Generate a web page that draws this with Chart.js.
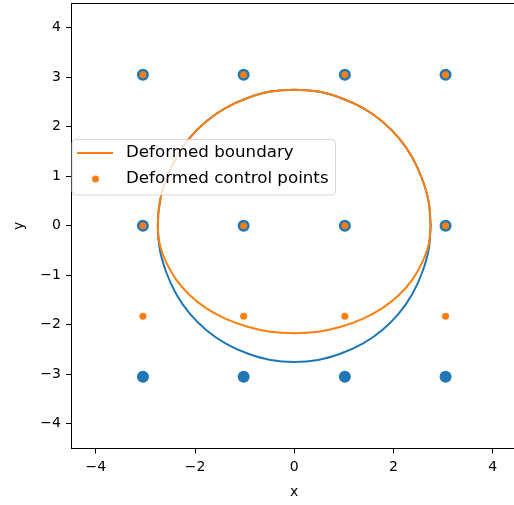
<!DOCTYPE html>
<html>
<head>
<meta charset="utf-8">
<script src="https://cdn.jsdelivr.net/npm/chart.js@4.4.1/dist/chart.umd.min.js"></script>
<style>
  html, body { margin: 0; padding: 0; overflow: hidden; background: #fff; }
  #wrap { width: 520px; height: 505px; }
</style>
</head>
<body>
<div id="wrap"><canvas id="ffd" width="520" height="505"></canvas></div>
<script>
// original boundary (circle) sampled every 10 degrees
const boundaryX = [2.75, 2.71, 2.58, 2.38, 2.11, 1.77, 1.38, 0.94, 0.48, 0, -0.48, -0.94, -1.38, -1.77, -2.11, -2.38, -2.58, -2.71, -2.75,
  -2.71, -2.58, -2.38, -2.11, -1.77, -1.38, -0.94, -0.48, 0, 0.48, 0.94, 1.38, 1.77, 2.11, 2.38, 2.58, 2.71, 2.75];
const boundaryY = [0, 0.48, 0.94, 1.38, 1.77, 2.11, 2.38, 2.58, 2.71, 2.75, 2.71, 2.58, 2.38, 2.11, 1.77, 1.38, 0.94, 0.48, 0,
  -0.48, -0.94, -1.38, -1.77, -2.11, -2.38, -2.58, -2.71, -2.75, -2.71, -2.58, -2.38, -2.11, -1.77, -1.38, -0.94, -0.48, 0];

// boundary after moving the bottom row of control points
const deformedX = [2.75, 2.71, 2.58, 2.38, 2.11, 1.77, 1.38, 0.94, 0.48, 0, -0.48, -0.94, -1.38, -1.77, -2.11, -2.38, -2.58, -2.71, -2.75,
  -2.71, -2.58, -2.38, -2.11, -1.77, -1.38, -0.94, -0.48, 0, 0.48, 0.94, 1.38, 1.77, 2.11, 2.38, 2.58, 2.71, 2.75];
const deformedY = [0, 0.48, 0.94, 1.38, 1.77, 2.11, 2.38, 2.58, 2.71, 2.75, 2.71, 2.58, 2.38, 2.11, 1.77, 1.38, 0.94, 0.48, 0,
  -0.38, -0.74, -1.09, -1.40, -1.67, -1.88, -2.04, -2.14, -2.17, -2.14, -2.04, -1.88, -1.67, -1.40, -1.09, -0.74, -0.38, 0];

// control lattice, before and after
const ctrlX = [-3.05, -1.02, 1.02, 3.05, -3.05, -1.02, 1.02, 3.05, -3.05, -1.02, 1.02, 3.05];
const ctrlY = [3.05, 3.05, 3.05, 3.05, 0, 0, 0, 0, -3.05, -3.05, -3.05, -3.05];
const defCtrlY = [3.05, 3.05, 3.05, 3.05, 0, 0, 0, 0, -1.83, -1.83, -1.83, -1.83];

const xTicks = [-4, -2, 0, 2, 4];
const yTicks = [-4, -3, -2, -1, 0, 1, 2, 3, 4];

const BLUE = '#1f77b4';
const ORANGE = '#ff7f0e';
const FONT = 'DejaVu Sans';

const pts = (xs, ys) => xs.map((x, i) => ({ x: x, y: ys[i] }));
const minus = v => String(v).replace('-', '\u2212');

// top/right spines
const frame = {
  id: 'frame',
  afterDatasetsDraw(chart) {
    const { ctx, chartArea: a } = chart;
    ctx.save();
    ctx.strokeStyle = '#000';
    ctx.lineWidth = 1;
    ctx.beginPath();
    ctx.moveTo(a.left, a.top + 0.5);
    ctx.lineTo(a.right, a.top + 0.5);
    ctx.lineTo(a.right, a.bottom);
    ctx.stroke();
    ctx.restore();
  }
};

// legend box inside the axes
const boxLegend = {
  id: 'boxLegend',
  afterDatasetsDraw(chart) {
    const { ctx, chartArea: a } = chart;
    const x0 = a.left + 1, y0 = a.top + 136.5, w = 263.5, h = 55.5, r = 3.5;
    ctx.save();
    ctx.beginPath();
    ctx.roundRect(x0, y0, w, h, r);
    ctx.fillStyle = 'rgba(255,255,255,0.8)';
    ctx.fill();
    ctx.strokeStyle = 'rgba(204,204,204,0.8)';
    ctx.lineWidth = 1;
    ctx.stroke();

    const row1 = y0 + 13.5, row2 = y0 + 39.5;
    ctx.strokeStyle = ORANGE;
    ctx.lineWidth = 2;
    ctx.beginPath();
    ctx.moveTo(x0 + 5, row1);
    ctx.lineTo(x0 + 41, row1);
    ctx.stroke();
    ctx.fillStyle = ORANGE;
    ctx.beginPath();
    ctx.arc(x0 + 23.5, row2, 3.5, 0, Math.PI * 2);
    ctx.fill();

    ctx.fillStyle = '#000';
    ctx.font = '16.7px "' + FONT + '"';
    ctx.textBaseline = 'middle';
    ctx.fillText('Deformed boundary', x0 + 54, row1);
    ctx.fillText('Deformed control points', x0 + 54, row2);
    ctx.restore();
  }
};

const noPad = s => { s.paddingTop = 0; s.paddingBottom = 0; s.paddingLeft = 0; s.paddingRight = 0; };

const axisCommon = {
  type: 'linear',
  min: -4.5,
  max: 4.5,
  border: { display: true, color: '#000', width: 1 },
  grid: { display: true, drawOnChartArea: false, drawTicks: true, tickLength: 5, tickWidth: 1, tickColor: '#000' },
  ticks: { color: '#000', font: { family: FONT, size: 14 }, padding: 5, callback: v => minus(v) },
  title: { display: true, color: '#000', font: { family: FONT, size: 14 } }
};

new Chart(document.getElementById('ffd'), {
  type: 'scatter',
  data: {
    datasets: [
      { data: pts(ctrlX, defCtrlY), backgroundColor: ORANGE, borderWidth: 0, pointRadius: 3.5, order: 0 },
      { data: pts(deformedX, deformedY), showLine: true, borderColor: ORANGE, borderWidth: 2, pointRadius: 0, tension: 0.33, order: 1 },
      { data: pts(boundaryX, boundaryY), showLine: true, borderColor: BLUE, borderWidth: 2, pointRadius: 0, tension: 0.33, order: 2 },
      { data: pts(ctrlX, ctrlY), backgroundColor: BLUE, borderWidth: 0, pointRadius: 6, order: 3 }
    ]
  },
  options: {
    responsive: false,
    animation: false,
    events: [],
    layout: { autoPadding: false, padding: { top: 3, right: 2.5, left: 0, bottom: 0 } },
    plugins: { legend: { display: false }, tooltip: { enabled: false } },
    scales: {
      x: Object.assign({}, axisCommon, {
        title: Object.assign({}, axisCommon.title, { text: 'x', padding: { top: 0, bottom: 4.5 } }),
        afterBuildTicks: s => { s.ticks = xTicks.map(v => ({ value: v })); },
        afterFit: s => { s.height = 56.5; noPad(s); }
      }),
      y: Object.assign({}, axisCommon, {
        title: Object.assign({}, axisCommon.title, { text: 'y', padding: { top: 11, bottom: 0 } }),
        afterBuildTicks: s => { s.ticks = yTicks.map(v => ({ value: v })); },
        afterFit: s => { s.width = 71; noPad(s); }
      })
    }
  },
  plugins: [frame, boxLegend]
});
</script>
</body>
</html>
